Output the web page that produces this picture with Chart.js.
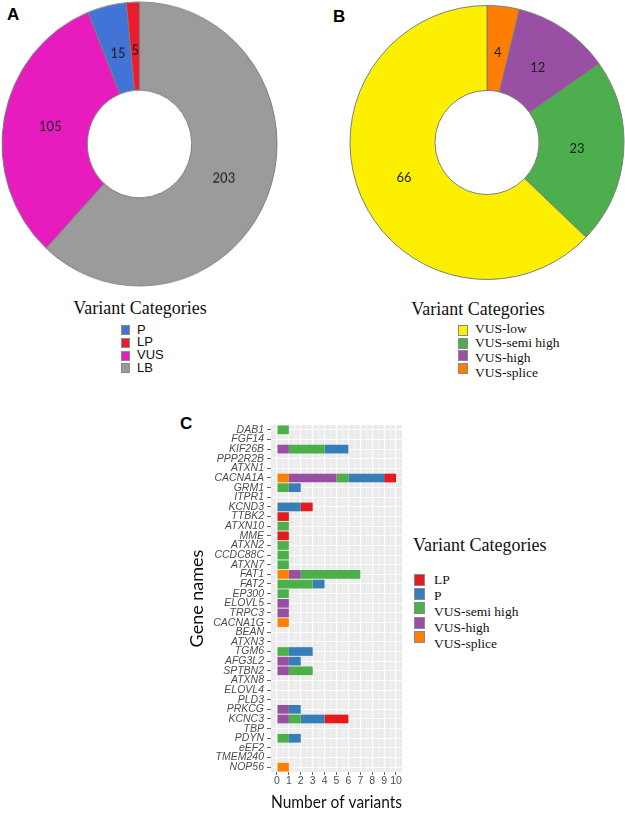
<!DOCTYPE html>
<html><head><meta charset="utf-8">
<script src="https://cdn.jsdelivr.net/npm/chart.js@4.4.0/dist/chart.umd.min.js"></script>
<style>
html,body{margin:0;padding:0;background:#fff;width:625px;height:813px;overflow:hidden;}
body{position:relative;}
.abs{position:absolute;}
.panel{font-family:'Liberation Sans',Arial,sans-serif;font-weight:bold;font-size:17px;line-height:17px;color:#000;}
.ltitle{position:absolute;font-family:'Liberation Serif','Times New Roman',serif;font-size:18px;line-height:20px;color:#111;white-space:nowrap;}
.ltext{position:absolute;white-space:nowrap;color:#111;}
.lbox{position:absolute;box-sizing:border-box;border:1px solid #8a8a8a;}
</style></head><body>
<div class="abs panel" style="left:7px;top:6px">A</div>
<div class="abs panel" style="left:333px;top:8px">B</div>
<div class="abs panel" style="left:180px;top:415px">C</div>

<canvas id="cA" class="abs" width="279" height="279" style="left:0;top:0;transform:scaleY(1.032);transform-origin:0 0;"></canvas>
<canvas id="cB" class="abs" width="280" height="285" style="left:347px;top:0;"></canvas>
<canvas id="cC" class="abs" width="230" height="398" style="left:180px;top:415px;"></canvas>

<div class="ltitle" style="left:0;width:280px;text-align:center;top:298px;">Variant Categories</div>
<div class="ltitle" style="left:378px;width:200px;text-align:center;top:299px;">Variant Categories</div>
<div class="ltitle" style="left:413px;top:535px;">Variant Categories</div>
<div id="legends"></div>

<script>
// ---------- Panel A: variant categories ----------
const aLabels = ['LB', 'VUS', 'P', 'LP'];
const aValues = [203, 105, 15, 5];
const aColors = ['#9b9b9b', '#e61cbf', '#4274d8', '#ec1c2c'];
const aLegendOrder = ['P', 'LP', 'VUS', 'LB'];

// ---------- Panel B: VUS sub-categories ----------
const bLabels = ['VUS-splice', 'VUS-high', 'VUS-semi high', 'VUS-low'];
const bValues = [4, 12, 23, 66];
const bColors = ['#ff7d00', '#994fa3', '#4cae4c', '#fcf000'];
const bLegendOrder = ['VUS-low', 'VUS-semi high', 'VUS-high', 'VUS-splice'];

// ---------- Panel C: variants per gene ----------
const genes = ['DAB1','FGF14','KIF26B','PPP2R2B','ATXN1','CACNA1A','GRM1','ITPR1','KCND3','TTBK2',
  'ATXN10','MME','ATXN2','CCDC88C','ATXN7','FAT1','FAT2','EP300','ELOVL5','TRPC3',
  'CACNA1G','BEAN','ATXN3','TGM6','AFG3L2','SPTBN2','ATXN8','ELOVL4','PLD3','PRKCG',
  'KCNC3','TBP','PDYN','eEF2','TMEM240','NOP56'];
const vusSplice = [0,0,0,0,0, 1,0,0,0,0, 0,0,0,0,0, 1,0,0,0,0, 1,0,0,0,0, 0,0,0,0,0, 0,0,0,0,0, 1];
const vusHigh   = [0,0,1,0,0, 4,0,0,0,0, 0,0,0,0,0, 1,0,0,1,1, 0,0,0,0,1, 1,0,0,0,1, 1,0,0,0,0, 0];
const vusSemi   = [1,0,3,0,0, 1,1,0,0,0, 1,0,1,1,1, 5,3,1,0,0, 0,0,0,1,0, 2,0,0,0,0, 1,0,1,0,0, 0];
const pathP     = [0,0,2,0,0, 3,1,0,2,0, 0,0,0,0,0, 0,1,0,0,0, 0,0,0,2,1, 0,0,0,0,1, 2,0,1,0,0, 0];
const likelyLP  = [0,0,0,0,0, 1,0,0,1,1, 0,1,0,0,0, 0,0,0,0,0, 0,0,0,0,0, 0,0,0,0,0, 2,0,0,0,0, 0];
const cSeriesLabels = ['VUS-splice', 'VUS-high', 'VUS-semi high', 'P', 'LP'];
const cSeriesColors = ['#ff7f00', '#984ea3', '#4daf4a', '#377eb8', '#e41a1c'];
const cLegendOrder = ['LP', 'P', 'VUS-semi high', 'VUS-high', 'VUS-splice'];
const xTicks = [0,1,2,3,4,5,6,7,8,9,10];
const xTickLabels = ['0','1','2','3','4','5','6','7','8','9','10'];

// ---------- helpers ----------
const sliceLabels = {
  id: 'sliceLabels',
  afterDatasetsDraw(chart) {
    const ctx = chart.ctx;
    const meta = chart.getDatasetMeta(0);
    const data = chart.data.datasets[0].data;
    ctx.save();
    ctx.font = '13px Lato, "Liberation Sans", sans-serif';
    ctx.fillStyle = '#1c1c1c';
    ctx.textAlign = 'center';
    ctx.textBaseline = 'middle';
    meta.data.forEach((arc, i) => {
      const p = arc.getProps(['x','y','startAngle','endAngle','innerRadius','outerRadius'], true);
      const a = (p.startAngle + p.endAngle) / 2;
      const r = p.innerRadius + (p.outerRadius - p.innerRadius) * 0.45;
      ctx.fillText(String(data[i]), p.x + Math.cos(a) * r, p.y + Math.sin(a) * r);
    });
    ctx.restore();
  }
};

function doughnut(id, labels, values, colors, radius) {
  return new Chart(document.getElementById(id), {
    type: 'doughnut',
    data: { labels: labels, datasets: [{ data: values, backgroundColor: colors, borderColor: '#7d7d7d', borderWidth: 1 }] },
    options: {
      responsive: false, animation: false, events: [],
      radius: radius, cutout: '38%',
      layout: { padding: 0 },
      plugins: { legend: { display: false }, tooltip: { enabled: false } }
    },
    plugins: [sliceLabels]
  });
}

function htmlLegend(order, labels, colors, o) {
  const host = document.getElementById('legends');
  order.forEach((lab, i) => {
    const col = colors[labels.indexOf(lab)];
    const b = document.createElement('div');
    b.className = 'lbox';
    b.style.cssText = `left:${o.boxLeft}px;top:${o.boxTop + i * o.boxStep}px;width:${o.boxW}px;height:${o.boxH}px;background:${col};`;
    host.appendChild(b);
    const t = document.createElement('div');
    t.className = 'ltext';
    t.textContent = lab;
    t.style.cssText = `left:${o.textLeft}px;top:${o.textCenter + i * o.textStep - o.textStep / 2}px;font:${o.font};line-height:${o.textStep}px;`;
    host.appendChild(t);
  });
}

doughnut('cA', aLabels, aValues, aColors, 137.5);
doughnut('cB', bLabels, bValues, bColors, 137);

htmlLegend(aLegendOrder, aLabels, aColors, { boxLeft: 121, boxTop: 325, boxW: 9, boxH: 10, boxStep: 12.8,
  textLeft: 137, textCenter: 330, textStep: 12.8, font: '13px "Liberation Sans", Arial, sans-serif' });
htmlLegend(bLegendOrder, bLabels, bColors, { boxLeft: 458, boxTop: 325, boxW: 10, boxH: 11, boxStep: 12.6,
  textLeft: 475, textCenter: 329, textStep: 14.6, font: '13.5px "Liberation Serif", "Times New Roman", serif' });
htmlLegend(cLegendOrder, cSeriesLabels, cSeriesColors, { boxLeft: 414, boxTop: 574, boxW: 11, boxH: 12, boxStep: 14.2,
  textLeft: 434, textCenter: 580, textStep: 16, font: '13.5px "Liberation Serif", "Times New Roman", serif' });

// ---------- Panel C chart ----------
const panelBg = {
  id: 'panelBg',
  beforeDraw(chart) {
    const { ctx, chartArea: a } = chart;
    ctx.save();
    ctx.fillStyle = '#ebebeb';
    ctx.fillRect(a.left, a.top, a.right - a.left, a.bottom - a.top);
    ctx.restore();
  }
};

const seriesData = [vusSplice, vusHigh, vusSemi, pathP, likelyLP];
const isMajor = v => xTicks.indexOf(v) >= 0;

new Chart(document.getElementById('cC'), {
  type: 'bar',
  data: {
    labels: genes,
    datasets: seriesData.map((arr, k) => ({
      label: cSeriesLabels[k],
      data: arr.map(v => (v === 0 ? null : v)),
      backgroundColor: cSeriesColors[k],
      borderWidth: 0,
      barPercentage: 0.9,
      categoryPercentage: 1.0
    }))
  },
  options: {
    indexAxis: 'y',
    responsive: false, animation: false, events: [],
    layout: { padding: { left: 0, right: 8, top: 10, bottom: 0 } },
    plugins: { legend: { display: false }, tooltip: { enabled: false } },
    scales: {
      x: {
        type: 'linear', stacked: true, min: -0.5, max: 10.5,
        afterBuildTicks: s => {
          const t = [];
          xTicks.forEach((v, i) => { t.push({ value: v }); if (i < xTicks.length - 1) t.push({ value: (v + xTicks[i + 1]) / 2 }); });
          s.ticks = t;
        },
        afterFit: s => { s.height = 41; },
        ticks: {
          autoSkip: false, maxRotation: 0, minRotation: 0, padding: 0, color: '#4d4d4d',
          font: { family: '"Liberation Sans", Arial, sans-serif', size: 10.5 },
          callback: v => { const i = xTicks.indexOf(v); return i >= 0 ? xTickLabels[i] : ''; }
        },
        grid: {
          color: '#ffffff',
          lineWidth: c => (c.tick && isMajor(c.tick.value) ? 1.1 : 0.5),
          tickColor: c => (c.tick && isMajor(c.tick.value) ? '#333333' : 'rgba(0,0,0,0)'),
          tickLength: 3, tickWidth: 0.8, drawTicks: true
        },
        border: { display: false },
        title: { display: true, text: 'Number of variants', color: '#111',
          font: { family: 'Lato, "Liberation Sans", sans-serif', size: 18 }, padding: { top: 0, bottom: 0 } }
      },
      y: {
        type: 'category', stacked: true, offset: true,
        afterFit: s => { s.width = 91; },
        ticks: {
          autoSkip: false, padding: 3, color: '#4d4d4d',
          font: { family: '"Liberation Sans", Arial, sans-serif', size: 10.5, style: 'italic' }
        },
        grid: { offset: false, color: '#ffffff', lineWidth: 1.1, tickColor: '#333333', tickLength: 4, tickWidth: 0.8 },
        border: { display: false },
        title: { display: true, text: 'Gene names', color: '#111',
          font: { family: 'Lato, "Liberation Sans", sans-serif', size: 18 }, padding: { top: 6, bottom: 0 } }
      }
    }
  },
  plugins: [panelBg]
});
</script>
</body></html>
